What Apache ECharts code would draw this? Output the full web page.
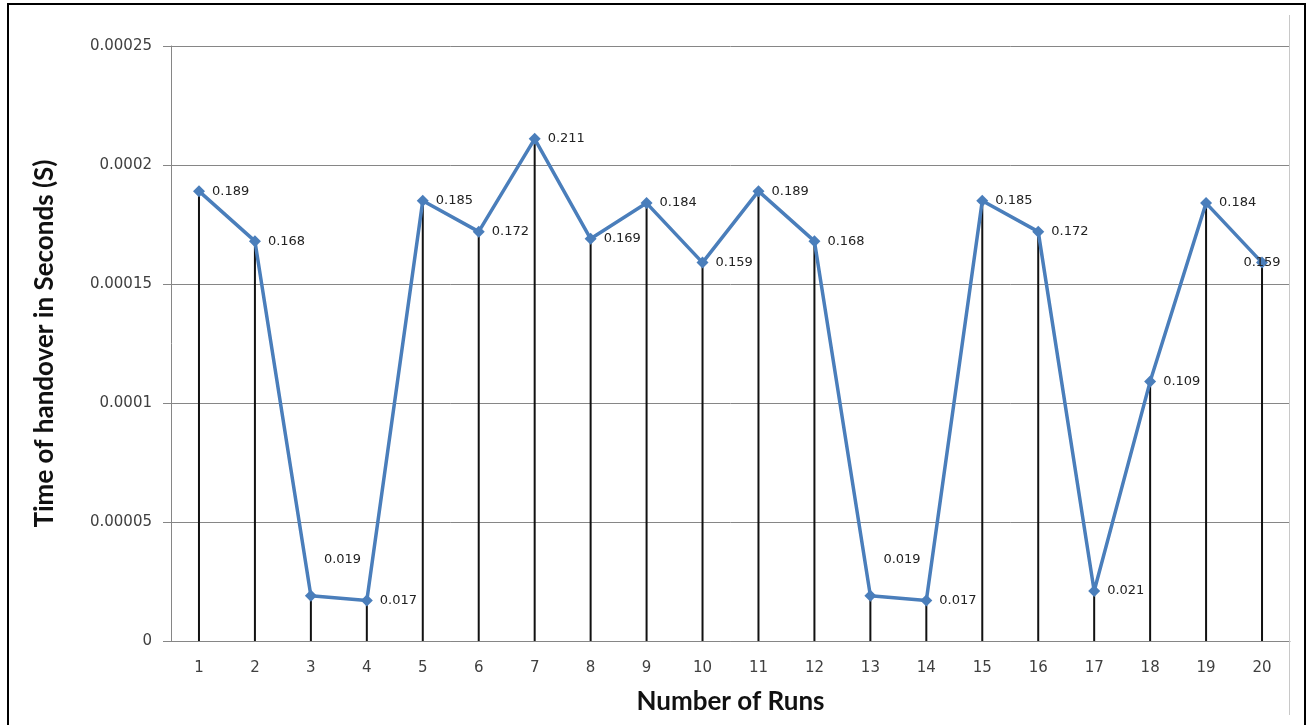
<!DOCTYPE html>
<html>
<head>
<meta charset="utf-8">
<script src="https://cdn.jsdelivr.net/npm/echarts@6/dist/echarts.min.js"></script>
<style>
html,body{margin:0;padding:0;background:#fff;}
#chart{width:1312px;height:725px;}
</style>
</head>
<body>
<div id="chart"></div>
<script>
const categories = ['1','2','3','4','5','6','7','8','9','10','11','12','13','14','15','16','17','18','19','20'];
const handoverTimes = [0.000189,0.000168,0.000019,0.000017,0.000185,0.000172,0.000211,0.000169,0.000184,0.000159,0.000189,0.000168,0.000019,0.000017,0.000185,0.000172,0.000021,0.000109,0.000184,0.000159];
const pointLabels = ['0.189','0.168','0.019','0.017','0.185','0.172','0.211','0.169','0.184','0.159','0.189','0.168','0.019','0.017','0.185','0.172','0.021','0.109','0.184','0.159'];
const yTickLabels = ['0','0.00005','0.0001','0.00015','0.0002','0.00025'];

const labelAbove = [2, 12];
const labelCentered = [19];

const lineData = handoverTimes.map((v, i) => {
  const item = { value: v };
  if (labelAbove.includes(i)) item.label = { offset: [0, -36] };
  if (labelCentered.includes(i)) item.label = { position: 'inside', offset: [0, 0] };
  return item;
});

const chart = echarts.init(document.getElementById('chart'));
chart.setOption({
  animation: false,
  backgroundColor: '#fff',
  grid: { left: 171, right: 22, top: 46, bottom: 84, containLabel: false },
  graphic: [
    { type: 'rect', shape: { x: 8, y: 4, width: 1297, height: 740 }, style: { fill: 'none', stroke: '#000', lineWidth: 2 }, z: 100 },
    { type: 'line', shape: { x1: 1289.5, y1: 15, x2: 1289.5, y2: 715 }, style: { stroke: '#c8c8c8', lineWidth: 1 }, z: 50 }
  ],
  xAxis: {
    type: 'category',
    data: categories,
    boundaryGap: true,
    name: 'Number of Runs',
    nameLocation: 'middle',
    nameGap: 48,
    nameTextStyle: { fontFamily: 'Lato', fontWeight: 'bold', fontSize: 26, color: '#111' },
    axisLine: { lineStyle: { color: '#868686', width: 1 } },
    axisTick: { show: false },
    axisLabel: { margin: 20, fontFamily: 'DejaVu Sans', fontSize: 15, color: '#404040' },
    splitLine: { show: false }
  },
  yAxis: {
    type: 'value',
    min: 0,
    max: 0.00025,
    interval: 0.00005,
    name: 'Time of handover in Seconds (S)',
    nameLocation: 'middle',
    nameGap: 113,
    nameRotate: 90,
    nameTextStyle: { fontFamily: 'Lato', fontWeight: 'bold', fontSize: 26, color: '#111' },
    axisLine: { show: true, lineStyle: { color: '#868686', width: 1 } },
    axisTick: { show: true, length: 8, inside: false, lineStyle: { color: '#868686' } },
    axisLabel: { margin: 19, fontFamily: 'DejaVu Sans', fontSize: 15, color: '#404040', formatter: (v, i) => yTickLabels[i] },
    splitLine: { show: true, lineStyle: { color: '#868686', width: 1 } }
  },
  series: [
    {
      type: 'bar',
      data: handoverTimes,
      barWidth: 2,
      itemStyle: { color: '#111' },
      z: 1,
      silent: true
    },
    {
      type: 'line',
      data: lineData,
      symbol: 'diamond',
      symbolSize: 12,
      lineStyle: { color: '#4A7EBB', width: 3.5 },
      itemStyle: { color: '#4A7EBB' },
      z: 3,
      label: {
        show: true,
        position: 'right',
        distance: 7,
        fontFamily: 'DejaVu Sans',
        fontSize: 13,
        color: '#222',
        formatter: (p) => pointLabels[p.dataIndex]
      }
    }
  ]
});
</script>
</body>
</html>
